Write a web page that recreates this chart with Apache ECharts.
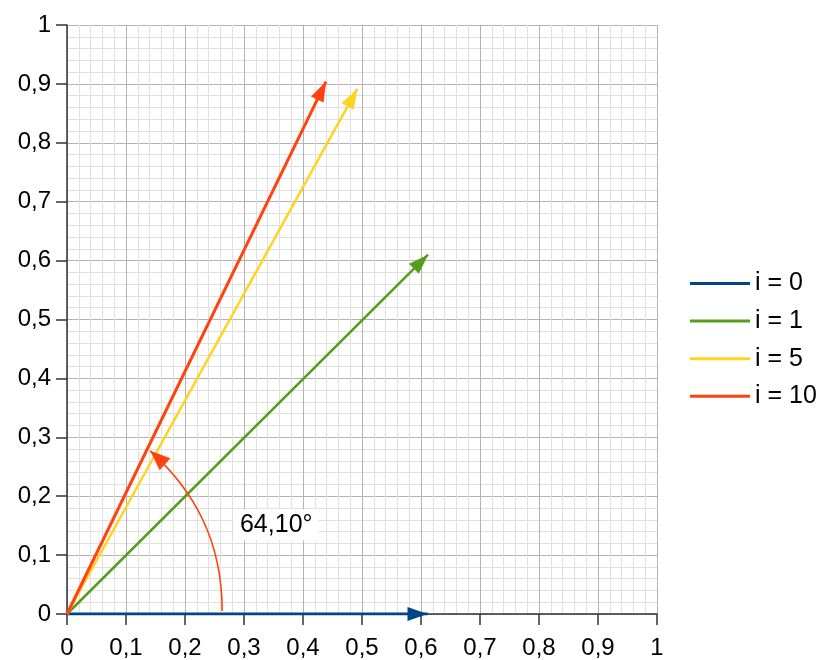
<!DOCTYPE html>
<html>
<head>
<meta charset="utf-8">
<script src="https://cdn.jsdelivr.net/npm/echarts@6/dist/echarts.min.js"></script>
<style>
html, body { margin: 0; padding: 0; background: #fff; }
#chart { width: 822px; height: 660px; }
</style>
</head>
<body>
<div id="chart"></div>
<script>
// vectors (arrow tips, origin at 0,0)
var seriesNames = ['i = 0', 'i = 1', 'i = 5', 'i = 10'];
var tipX = [0.611, 0.612, 0.492, 0.439];
var tipY = [0, 0.610, 0.8915, 0.904];
var colors = ['#004586', '#579d1c', '#ffd320', '#ff420e'];
var widths = [3, 2.5, 2.5, 3];

// angle annotation: bezier start, ctrl1, ctrl2, end (data units)
var arcPts = [[0.263, 0.005], [0.263, 0.125], [0.215, 0.21], [0.141, 0.277]];
var angleLabel = '64,10°';
var labelPos = [0.283, 0.1517];

var FONT = 'Liberation Sans';

function fmt(v) {
    return String(+v.toFixed(1)).replace('.', ',');
}

function arrowHead(tip, from, L, W, color) {
    var dx = tip[0] - from[0], dy = tip[1] - from[1];
    var len = Math.sqrt(dx * dx + dy * dy);
    var ux = dx / len, uy = dy / len;
    var bx = tip[0] - ux * L, by = tip[1] - uy * L;
    return {
        type: 'polygon',
        shape: {points: [tip, [bx - uy * W, by + ux * W], [bx + uy * W, by - ux * W]]},
        style: {fill: color}
    };
}

var series = [];
for (var i = 0; i < seriesNames.length; i++) {
    series.push({
        name: seriesNames[i],
        type: 'line',
        data: [[0, 0], [tipX[i], tipY[i]]],
        symbol: 'none',
        color: colors[i],
        lineStyle: {color: colors[i], width: widths[i]},
        z: 3
    });
}

// arrow heads
series.push({
    type: 'custom',
    coordinateSystem: 'cartesian2d',
    z: 5,
    data: tipX.map(function (x, k) { return [x, tipY[k], k]; }),
    renderItem: function (params, api) {
        var k = api.value(2);
        var tip = api.coord([api.value(0), api.value(1)]);
        var o = api.coord([0, 0]);
        return arrowHead(tip, o, 20, 7, colors[k]);
    }
});

// angle arc + label
series.push({
    type: 'custom',
    coordinateSystem: 'cartesian2d',
    z: 6,
    data: [[0, 0]],
    renderItem: function (params, api) {
        var p = arcPts.map(function (q) { return api.coord(q); });
        var lp = api.coord(labelPos);
        return {
            type: 'group',
            children: [
                {
                    type: 'bezierCurve',
                    shape: {
                        x1: p[0][0], y1: p[0][1],
                        cpx1: p[1][0], cpy1: p[1][1],
                        cpx2: p[2][0], cpy2: p[2][1],
                        x2: p[3][0], y2: p[3][1]
                    },
                    style: {stroke: '#ff420e', lineWidth: 1.6, fill: null}
                },
                arrowHead(p[3], p[2], 20, 8, '#ff420e'),
                {
                    type: 'text',
                    style: {
                        text: angleLabel,
                        x: lp[0], y: lp[1],
                        align: 'left',
                        verticalAlign: 'middle',
                        fill: '#000',
                        font: '25px "' + FONT + '"',
                        backgroundColor: '#fff',
                        padding: [3, 6, 3, 6]
                    }
                }
            ]
        };
    }
});

var axisCommon = {
    type: 'value',
    min: 0,
    max: 1,
    interval: 0.1,
    axisLine: {show: true, lineStyle: {color: '#333', width: 1.5}},
    axisTick: {show: true, inside: false, length: 11, lineStyle: {color: '#333', width: 1.5}},
    splitLine: {show: true, lineStyle: {color: '#b3b3b3', width: 1}},
    minorTick: {show: false, splitNumber: 5},
    minorSplitLine: {show: true, lineStyle: {color: '#e0e0e0', width: 1}},
    axisLabel: {
        color: '#000',
        fontFamily: FONT,
        fontSize: 24,
        formatter: fmt
    }
};

var option = {
    backgroundColor: '#fff',
    animation: false,
    grid: {left: 67, top: 25, width: 590, height: 590},
    xAxis: echarts.util.merge({axisLabel: {margin: 22}}, axisCommon, false),
    yAxis: echarts.util.merge({axisLabel: {margin: 16}}, axisCommon, false),
    legend: {
        orient: 'vertical',
        left: 685,
        top: 266,
        icon: 'rect',
        itemWidth: 60,
        itemHeight: 3,
        itemGap: 12.6,
        data: seriesNames,
        textStyle: {color: '#000', fontFamily: FONT, fontSize: 25}
    },
    series: series
};

var myChart = echarts.init(document.getElementById('chart'));
myChart.setOption(option);
</script>
</body>
</html>
